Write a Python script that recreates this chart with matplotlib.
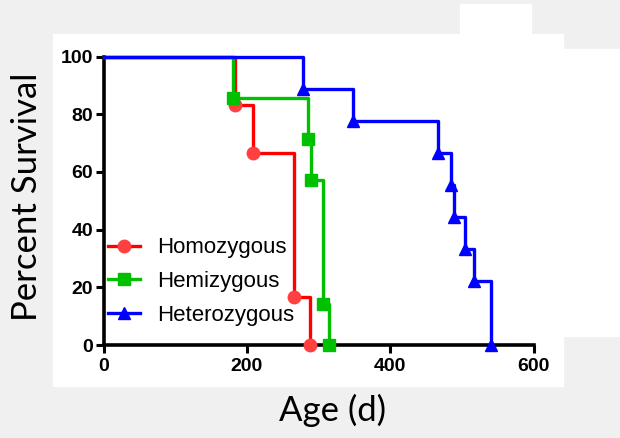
import matplotlib
matplotlib.use("Agg")
import matplotlib.pyplot as plt
from matplotlib.lines import Line2D
from matplotlib.patches import Rectangle

# 데이터 (Kaplan-Meier steps)
homo_t = [0, 184, 208, 266, 288]
homo_s = [100, 83.3, 66.7, 16.7, 0]
hemi_t = [0, 181, 286, 289, 306, 314]
hemi_s = [100, 85.7, 71.4, 57.1, 14.3, 0]
hetero_t = [0, 278, 348, 467, 485, 489, 505, 517, 541]
hetero_s = [100, 88.9, 77.8, 66.7, 55.6, 44.4, 33.3, 22.2, 0]

labels = ["Homozygous", "Hemizygous", "Heterozygous"]
colors = ["#ff0000", "#00c000", "#0000ff"]
mcolors = ["#ff4040", "#00c000", "#0000ff"]
markers = ["o", "s", "^"]
xticks = [0, 200, 400, 600]
yticks = [0, 20, 40, 60, 80, 100]

fig = plt.figure(figsize=(6.2, 4.38), dpi=100, facecolor="#f0f0f0")

# white panels behind the chart
fig.patches.append(Rectangle((0.0855, 0.1187), 0.8226, 0.8037, transform=fig.transFigure, color="white", zorder=-5))
fig.patches.append(Rectangle((0.742, 0.9224), 0.1145, 0.0685, transform=fig.transFigure, color="white", zorder=-5))
fig.patches.append(Rectangle((0.908, 0.2329), 0.092, 0.6553, transform=fig.transFigure, color="white", zorder=-5))

ax = fig.add_axes([0.167, 0.2123, 0.6935, 0.6587])
ax.patch.set_alpha(0)

series = [(homo_t, homo_s), (hemi_t, hemi_s), (hetero_t, hetero_s)]
for (t, s), c, mc, m in zip(series, colors, mcolors, markers):
    ax.plot(t, s, color=c, lw=2.4, drawstyle="steps-post", clip_on=False, zorder=3)
    ax.plot(t[1:], s[1:], linestyle="none", marker=m, color=mc, ms=9, clip_on=False, zorder=4)

ax.set_xlim(0, 600)
ax.set_ylim(0, 100)
ax.set_xticks(xticks)
ax.set_yticks(yticks)
for side in ["top", "right"]:
    ax.spines[side].set_visible(False)
for side in ["left", "bottom"]:
    ax.spines[side].set_linewidth(2.6)
ax.tick_params(width=2.2, length=5.5, labelsize=14)
ax.tick_params(axis="x", pad=4)
ax.tick_params(axis="y", pad=2)
for lab in ax.get_xticklabels() + ax.get_yticklabels():
    lab.set_fontfamily("Liberation Sans")
    lab.set_fontweight("bold")

# legend
handles = [Line2D([], [], color=c, marker=m, markerfacecolor=mc, markeredgecolor=mc, lw=2.4, ms=9)
           for c, mc, m in zip(colors, mcolors, markers)]
ax.legend(handles, labels, loc="center left", bbox_to_anchor=(0.0104, 0.2195),
          frameon=False, borderpad=0, borderaxespad=0, handlelength=1.45,
          handletextpad=0.75, labelspacing=0.58, numpoints=1,
          prop={"family": "Liberation Sans", "size": 16})

fig.text(0.537, 0.062, "Age (d)", ha="center", va="center", fontsize=25, family="Lato")
fig.text(0.044, 0.551, "Percent Survival", ha="center", va="center", rotation=90, fontsize=25, family="Lato")

plt.savefig("out.png", dpi=100, facecolor=fig.get_facecolor())
